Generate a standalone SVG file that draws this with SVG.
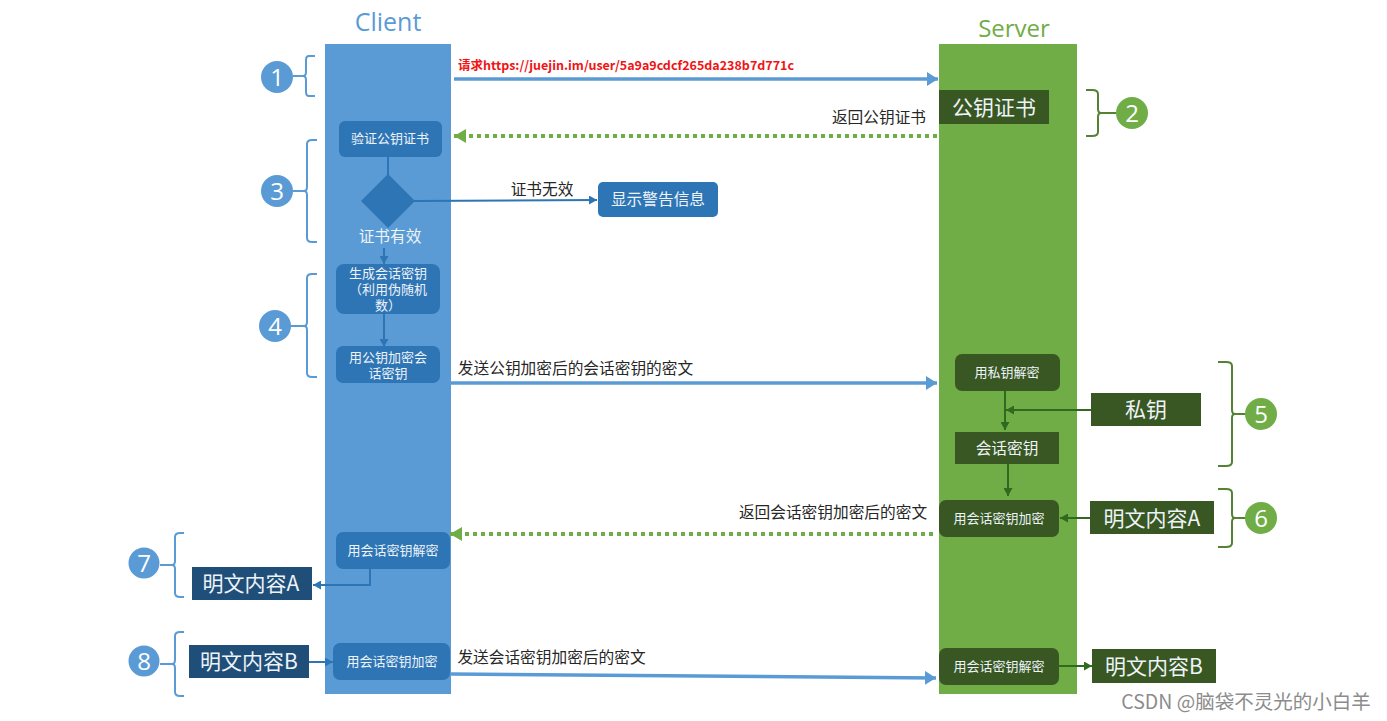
<svg xmlns="http://www.w3.org/2000/svg" width="1387" height="721" viewBox="0 0 1387 721">
<style>
text{font-family:"Noto Sans CJK SC","Liberation Sans",sans-serif;text-anchor:middle}
.lane-c{fill:#5b9bd5}.lane-s{fill:#70ad47}
.bb{fill:#2e75b6}.gb{fill:#385723}.nb{fill:#1f4e79}
.w{fill:#eef3f8}.k{fill:#262626;font-size:15.7px}
.s12{font-size:13px}.s15{font-size:15.7px}.s20{font-size:21px}
text.s13{font-size:13px;font-family:"Liberation Sans","Noto Sans CJK SC",sans-serif}
.bn{fill:#fff;font-size:24px;font-family:"Open Sans",sans-serif}
.cb{fill:#5b9bd5}.cg{fill:#70ad47}
.brace{fill:none;stroke-width:2}
.bl{stroke:#5b9bd5}.gl{stroke:#548235}
.main{stroke:#5b9bd5;stroke-width:3.5;fill:none}
.dot{stroke:#70ad47;stroke-width:4;stroke-dasharray:4 4;fill:none}
.thinb{stroke:#2e75b6;stroke-width:2;fill:none}
.thing{stroke:#2f6b1f;stroke-width:2;fill:none}
</style>
<defs>
<marker id="mb" markerUnits="userSpaceOnUse" markerWidth="12" markerHeight="14" refX="11" refY="7" orient="auto"><path d="M0 0L11 7L0 14Z" fill="#5b9bd5"/></marker>
<marker id="mg" markerUnits="userSpaceOnUse" markerWidth="13" markerHeight="14" refX="12" refY="7" orient="auto"><path d="M0 0L12 7L0 14Z" fill="#70ad47"/></marker>
<marker id="tb" markerUnits="userSpaceOnUse" markerWidth="9" markerHeight="9" refX="8" refY="4.5" orient="auto"><path d="M0 0L8 4.500L0 9Z" fill="#2e75b6"/></marker>
<marker id="tg" markerUnits="userSpaceOnUse" markerWidth="9" markerHeight="9" refX="8" refY="4.5" orient="auto"><path d="M0 0L8 4.500L0 9Z" fill="#2f6b1f"/></marker>
</defs>
<rect width="1387" height="721" fill="#fff"/>
<g id="lane-client"><rect class="lane-c" x="325" y="44" width="126" height="650"/><text x="388" y="31" font-size="25" fill="#5b9bd5" style="font-family:'Open Sans',sans-serif">Client</text></g>
<g id="lane-server"><rect class="lane-s" x="939" y="44" width="138" height="650"/><text x="1014" y="37" font-size="24" fill="#70ad47" style="font-family:'Open Sans',sans-serif">Server</text></g>
<g id="connectors">
<path class="main" d="M454 79H938" marker-end="url(#mb)"/>
<path class="dot" d="M937 136H454" marker-end="url(#mg)"/>
<path class="thinb" d="M388 156V175"/>
<path class="thinb" d="M414 201L597 200" marker-end="url(#tb)"/>
<path class="thinb" d="M384 248V264" marker-end="url(#tb)"/>
<path class="thinb" d="M384 314V347" marker-end="url(#tb)"/>
<path class="main" d="M451 383H937" marker-end="url(#mb)"/>
<path class="thing" d="M1005 390V430" marker-end="url(#tg)"/>
<path class="thing" d="M1091 410H1006" marker-end="url(#tg)"/>
<path class="thing" d="M1008 463V496" marker-end="url(#tg)"/>
<path class="thing" d="M1090 518H1060" marker-end="url(#tg)"/>
<path class="dot" d="M933 534H450" marker-end="url(#mg)"/>
<path class="thinb" d="M370 568V585H313" marker-end="url(#tb)"/>
<path class="thinb" d="M309 662H333" marker-end="url(#tb)"/>
<path class="main" d="M451 674L936 678" marker-end="url(#mb)"/>
<path class="thing" d="M1059 666H1092" marker-end="url(#tg)"/>
</g>
<g id="label-request"><text x="626" y="70" font-size="12.500" font-weight="700" fill="#f01414">请求https://juejin.im/user/5a9a9cdcf265da238b7d771c</text></g>
<g id="label-return-cert"><text class="k" x="879" y="123">返回公钥证书</text></g>
<g id="label-invalid"><text class="k" x="542" y="195">证书无效</text></g>
<g id="label-send-key"><text class="k" x="575.500" y="374">发送公钥加密后的会话密钥的密文</text></g>
<g id="label-return-key"><text class="k" x="833" y="518">返回会话密钥加密后的密文</text></g>
<g id="label-send-data"><text class="k" x="551.500" y="663">发送会话密钥加密后的密文</text></g>
<g id="node-verify"><rect class="bb" x="339" y="121" width="103" height="36" rx="6"/><text class="w s12" x="390" y="143">验证公钥证书</text></g>
<g id="node-valid"><path class="bb" d="M388 174L415 201L388 228L361 201Z"/><text class="w s15" x="390" y="242">证书有效</text></g>
<g id="node-warning"><rect class="bb" x="598" y="182" width="120" height="35" rx="5"/><text class="w s15" x="658" y="205">显示警告信息</text></g>
<g id="node-generate"><rect class="bb" x="336" y="264" width="104" height="50" rx="8"/><text class="w s13" y="278"><tspan x="388">生成会话密钥</tspan><tspan x="388" dy="16">（利用伪随机</tspan><tspan x="388" dy="15.500">数）</tspan></text></g>
<g id="node-encrypt-key"><rect class="bb" x="336" y="346" width="104" height="37" rx="7"/><text class="w s13" y="362"><tspan x="388">用公钥加密会</tspan><tspan x="388" dy="16">话密钥</tspan></text></g>
<g id="node-client-decrypt"><rect class="bb" x="336" y="532" width="114" height="37" rx="7"/><text class="w s12" x="393" y="555">用会话密钥解密</text></g>
<g id="node-client-encrypt"><rect class="bb" x="333" y="643" width="117" height="37" rx="7"/><text class="w s12" x="392" y="666">用会话密钥加密</text></g>
<g id="node-plain-a-client"><rect class="nb" x="192" y="567" width="120" height="33"/><text class="w s20" x="251" y="591">明文内容A</text></g>
<g id="node-plain-b-client"><rect class="nb" x="189" y="645" width="120" height="33"/><text class="w s20" x="249" y="669">明文内容B</text></g>
<g id="node-cert"><rect class="gb" x="939" y="90" width="110" height="34"/><text class="w s20" x="994" y="115">公钥证书</text></g>
<g id="node-decrypt"><rect class="gb" x="955" y="354" width="105" height="37" rx="7"/><text class="w s12" x="1007" y="377">用私钥解密</text></g>
<g id="node-session"><rect class="gb" x="955" y="432" width="104" height="32"/><text class="w s15" x="1007" y="454">会话密钥</text></g>
<g id="node-private"><rect class="gb" x="1091" y="393" width="110" height="33"/><text class="w s20" x="1146" y="417">私钥</text></g>
<g id="node-server-encrypt"><rect class="gb" x="939" y="500" width="120" height="37" rx="7"/><text class="w s12" x="999" y="523">用会话密钥加密</text></g>
<g id="node-plain-a-server"><rect class="gb" x="1090" y="501" width="124" height="33"/><text class="w s20" x="1152" y="526">明文内容A</text></g>
<g id="node-server-decrypt"><rect class="gb" x="939" y="648" width="120" height="37" rx="7"/><text class="w s12" x="999" y="671">用会话密钥解密</text></g>
<g id="node-plain-b-server"><rect class="gb" x="1092" y="649" width="124" height="34"/><text class="w s20" x="1154" y="674">明文内容B</text></g>
<g id="badge-1"><path class="brace bl" d="M315 56H309Q306 56 306 60V72Q306 76 303 76H293M303 76Q306 76 306 80V92Q306 96 309 96H315"/><circle class="cb" cx="277" cy="77" r="16"/><text class="bn" x="277" y="86">1</text></g>
<g id="badge-2"><path class="brace gl" d="M1086 90H1092Q1098 90 1098 94V109Q1098 113 1101 113H1116M1101 113Q1098 113 1098 117V132Q1098 136 1092 136H1086"/><circle class="cg" cx="1132" cy="113" r="16"/><text class="bn" x="1132" y="122">2</text></g>
<g id="badge-3"><path class="brace bl" d="M317 140H312Q307 140 307 144V187Q307 191 304 191H293M304 191Q307 191 307 195V238Q307 242 312 242H317"/><circle class="cb" cx="277" cy="191" r="16"/><text class="bn" x="277" y="200">3</text></g>
<g id="badge-4"><path class="brace bl" d="M317 274H312Q307 274 307 278V322Q307 326 304 326H291M304 326Q307 326 307 330V373Q307 377 312 377H317"/><circle class="cb" cx="275" cy="326" r="16"/><text class="bn" x="275" y="335">4</text></g>
<g id="badge-5"><path class="brace gl" d="M1218 362H1226Q1232 362 1232 366V410Q1232 414 1235 414H1246M1235 414Q1232 414 1232 418V462Q1232 466 1226 466H1218"/><circle class="cg" cx="1261" cy="414" r="16"/><text class="bn" x="1261" y="423">5</text></g>
<g id="badge-6"><path class="brace gl" d="M1218 489H1226Q1232 489 1232 493V514Q1232 518 1235 518H1246M1235 518Q1232 518 1232 522V543Q1232 547 1226 547H1218"/><circle class="cg" cx="1261" cy="518" r="16"/><text class="bn" x="1261" y="527">6</text></g>
<g id="badge-7"><path class="brace bl" d="M184 533H180Q175 533 175 537V561Q175 565 172 565H160M172 565Q175 565 175 569V593Q175 597 180 597H184"/><circle class="cb" cx="144" cy="563" r="15.500"/><text class="bn" x="144" y="572">7</text></g>
<g id="badge-8"><path class="brace bl" d="M184 632H180Q175 632 175 636V660Q175 664 172 664H160M172 664Q175 664 175 668V692Q175 696 180 696H184"/><circle class="cb" cx="144" cy="661" r="15.500"/><text class="bn" x="144" y="670">8</text></g>
<g id="watermark"><text x="1246" y="709" font-size="19.500" fill="#8c8c8c">CSDN @脑袋不灵光的小白羊</text></g>
</svg>
